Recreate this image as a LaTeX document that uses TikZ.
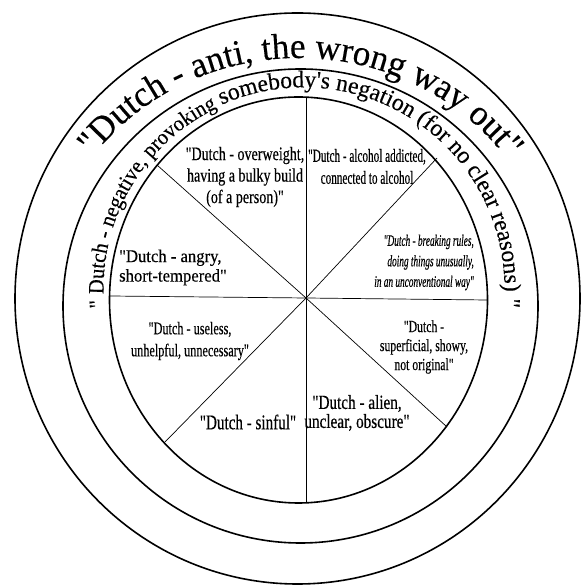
\documentclass[tikz,border=0pt]{standalone}
\usepackage{fontspec}
\setmainfont{Liberation Serif}[Ligatures=TeXOff]
\newfontfamily\fOuter{Liberation Serif}[FakeStretch=0.975,FakeBold=0.3,Ligatures=TeXOff]
\newfontfamily\fRingA{Liberation Serif}[FakeStretch=0.93,FakeBold=0.3,Ligatures=TeXOff]
\newfontfamily\fRingB{Liberation Serif}[FakeStretch=0.98,FakeBold=0.3,Ligatures=TeXOff]
\newfontfamily\fOver{Liberation Serif}[FakeStretch=0.74,FakeBold=0.3,Ligatures=TeXOff]
\newfontfamily\fAlc{Liberation Serif}[FakeStretch=0.605,FakeBold=0.3,Ligatures=TeXOff]
\newfontfamily\fAng{Liberation Serif}[FakeStretch=0.925,FakeBold=0.3,Ligatures=TeXOff]
\newfontfamily\fBrk{Liberation Serif}[FakeStretch=0.58,FakeBold=0.3,Ligatures=TeXOff]
\newfontfamily\fUse{Liberation Serif}[FakeStretch=0.68,FakeBold=0.3,Ligatures=TeXOff]
\newfontfamily\fSup{Liberation Serif}[FakeStretch=0.69,FakeBold=0.3,Ligatures=TeXOff]
\newfontfamily\fSin{Liberation Serif}[FakeStretch=0.72,FakeBold=0.3,Ligatures=TeXOff]
\newfontfamily\fAli{Liberation Serif}[FakeStretch=0.76,FakeBold=0.3,Ligatures=TeXOff]
\usetikzlibrary{decorations.text}
\begin{document}
\begin{tikzpicture}[x=1pt,y=1pt,
  ring/.style={line width=1.6pt},
  spoke/.style={line width=0.7pt},
  lab/.style={inner sep=0pt, align=center}]
\useasboundingbox (0,0) rectangle (582,585);
\fill[white] (0,0) rectangle (582,585);
% rings
\draw[ring] (297.5,286.5) ellipse [x radius=282.5pt, y radius=285.5pt];
\draw[ring] (300.5,279) ellipse [x radius=237.5pt, y radius=237pt];
\draw[ring] (298.5,285) ellipse [x radius=189pt, y radius=203pt];
% spokes
\coordinate (hub) at (306,287);
\coordinate (sN) at (306,488);
\coordinate (sS) at (306,82);
\coordinate (sW) at (110,289);
\coordinate (sE) at (487,285);
\coordinate (sNW) at (157,420);
\coordinate (sSE) at (447,158);
\coordinate (sNE) at (437,427);
\coordinate (sSW) at (165,143);
\foreach \e in {sN,sS,sW,sE,sNW,sSE,sNE,sSW} \draw[spoke] (hub) -- (\e);
% ring texts
\coordinate (outerC) at (299,285);
\coordinate (innerC) at (303.5,296.6);
\path[decorate, decoration={text along path, text align=left,
  text={|\fOuter\fontsize{36}{36}\selectfont|"Dutch - anti, the wrong way out"}}]
  ([shift={(143.5:256pt and 242pt)}]outerC) arc[start angle=143.5, end angle=0, x radius=256pt, y radius=242pt];
\path[decorate, decoration={text along path, text align=left,
  text={|\fRingA\fontsize{22}{22}\selectfont|" Dutch - negative, provoking }}]
  ([shift={(185.5:200pt)}]innerC) arc[start angle=185.5, end angle=110, radius=200pt];
\path[decorate, decoration={text along path, text align=left,
  text={|\fRingB\fontsize{24}{24}\selectfont|somebody's negation (for no clear reasons)  "}}]
  ([shift={(114:201pt)}]innerC) arc[start angle=114, end angle=-20, radius=201pt];
% sector texts
\node[lab, font={\fOver\fontsize{19}{21.5}\selectfont}] (over) at (245,408)
  {"Dutch - overweight,\\having a bulky build\\(of a person)"};
\node[lab, font={\fAlc\fontsize{18.5}{22}\selectfont}] (alc) at (367,418.5)
  {"Dutch - alcohol addicted,\\connected to alcohol};
\node[lab, align=left, anchor=west, font={\fAng\fontsize{18}{19.5}\selectfont}] (angry) at (119,317.5)
  {"Dutch - angry,\\short-tempered"};
\node[lab, align=right, anchor=east, font={\fBrk\itshape\fontsize{16}{20.5}\selectfont}] (brk) at (474,322.5)
  {"Dutch - breaking rules,\\doing things unusually,\\in an unconventional way"};
\node[lab, font={\fUse\fontsize{18}{22}\selectfont}] (use) at (190,244)
  {"Dutch - useless,\\unhelpful, unnecessary"};
\node[lab, font={\fSup\fontsize{17}{19}\selectfont}] (sup) at (424,238)
  {"Dutch -\\superficial, showy,\\not original"};
\node[lab, font={\fSin\fontsize{21}{21}\selectfont}] (sin) at (248,163)
  {"Dutch - sinful"};
\node[lab, font={\fAli\fontsize{20}{19}\selectfont}] (ali) at (357,172)
  {"Dutch - alien,\\unclear, obscure"};
\end{tikzpicture}
\end{document}
